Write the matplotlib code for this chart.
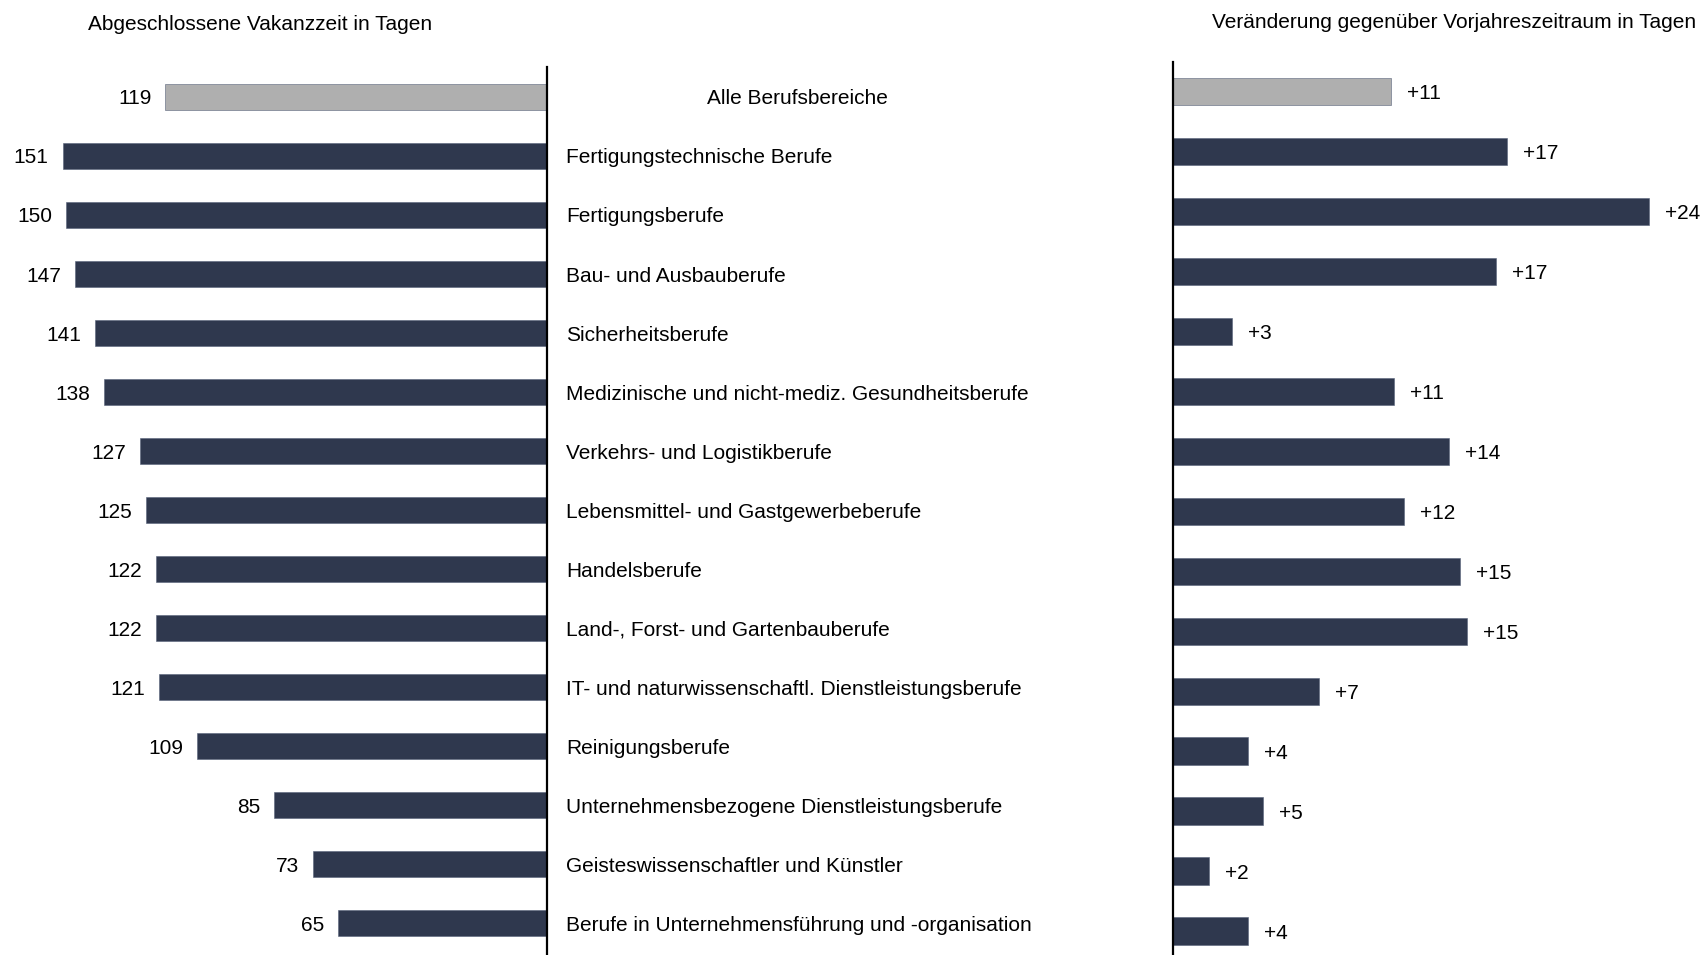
import numpy as np
import matplotlib
matplotlib.use("Agg")
import matplotlib.pyplot as plt

plt.rcParams["font.family"] = ["Liberation Sans", "DejaVu Sans"]

# data
categories = [
    "Alle Berufsbereiche",
    "Fertigungstechnische Berufe",
    "Fertigungsberufe",
    "Bau- und Ausbauberufe",
    "Sicherheitsberufe",
    "Medizinische und nicht-mediz. Gesundheitsberufe",
    "Verkehrs- und Logistikberufe",
    "Lebensmittel- und Gastgewerbeberufe",
    "Handelsberufe",
    "Land-, Forst- und Gartenbauberufe",
    "IT- und naturwissenschaftl. Dienstleistungsberufe",
    "Reinigungsberufe",
    "Unternehmensbezogene Dienstleistungsberufe",
    "Geisteswissenschaftler und Künstler",
    "Berufe in Unternehmensführung und -organisation",
]
vakanzzeit = [119, 151, 150, 147, 141, 138, 127, 125, 122, 122, 121, 109, 85, 73, 65]
# bar lengths (labels are the rounded values)
veraenderung = [11.16, 17.13, 24.41, 16.58, 3.04, 11.35, 14.16, 11.85,
                14.73, 15.10, 7.47, 3.85, 4.61, 1.85, 3.83]

title_left = "Abgeschlossene Vakanzzeit in Tagen"
title_right = "Veränderung gegenüber Vorjahreszeitraum in Tagen"

navy = "#2f384e"
grey = "#afafaf"
colors = [grey] + [navy] * (len(categories) - 1)

W, H = 1703, 955
fig = plt.figure(figsize=(W / 100, H / 100), dpi=100)

def px_axes(x0, y0, x1, y1):
    # pixel box (top-left origin) -> axes
    return fig.add_axes([x0 / W, 1 - y1 / H, (x1 - x0) / W, (y1 - y0) / H])

rows = np.arange(len(categories))

# left panel
axl = px_axes(0, 67, 547, 955)
axl.barh(rows, vakanzzeit, height=0.44, color=colors, edgecolor="#58627a", linewidth=0.4)
axl.set_xlim(170.5, 0)
axl.set_ylim(14.54, -0.503)
axl.axis("off")
axl.axvline(0, color="black", lw=1.6, clip_on=False)
for i, v in enumerate(vakanzzeit):
    axl.annotate(str(v), (v, i), xytext=(-10, -1.6), textcoords="offset points",
                 ha="right", va="center", fontsize=15)
for i, c in enumerate(categories):
    if i == 0:
        fig.text(797 / W, 1 - 99 / H, c, ha="center", va="center", fontsize=15)
    else:
        axl.annotate(c, (0, i), xytext=(13.7, -1.6), textcoords="offset points",
                     ha="left", va="center", fontsize=15, annotation_clip=False)

# right panel
axr = px_axes(1173, 62, 1703, 955)
axr.barh(rows, veraenderung, height=0.453, color=colors, edgecolor="#58627a", linewidth=0.4)
axr.set_xlim(0, 27.18)
axr.set_ylim(14.40, -0.489)
axr.axis("off")
axr.axvline(0, color="black", lw=1.6, clip_on=False)
for i, v in enumerate(veraenderung):
    axr.annotate(f"+{round(v)}", (v, i), xytext=(11.5, -1.7), textcoords="offset points",
                 ha="left", va="center", fontsize=15, annotation_clip=False)

fig.text(260 / W, 1 - 25 / H, title_left, ha="center", va="center", fontsize=15)
fig.text(1696 / W, 1 - 23 / H, title_right, ha="right", va="center", fontsize=15)

fig.savefig("out.png", dpi=100)
